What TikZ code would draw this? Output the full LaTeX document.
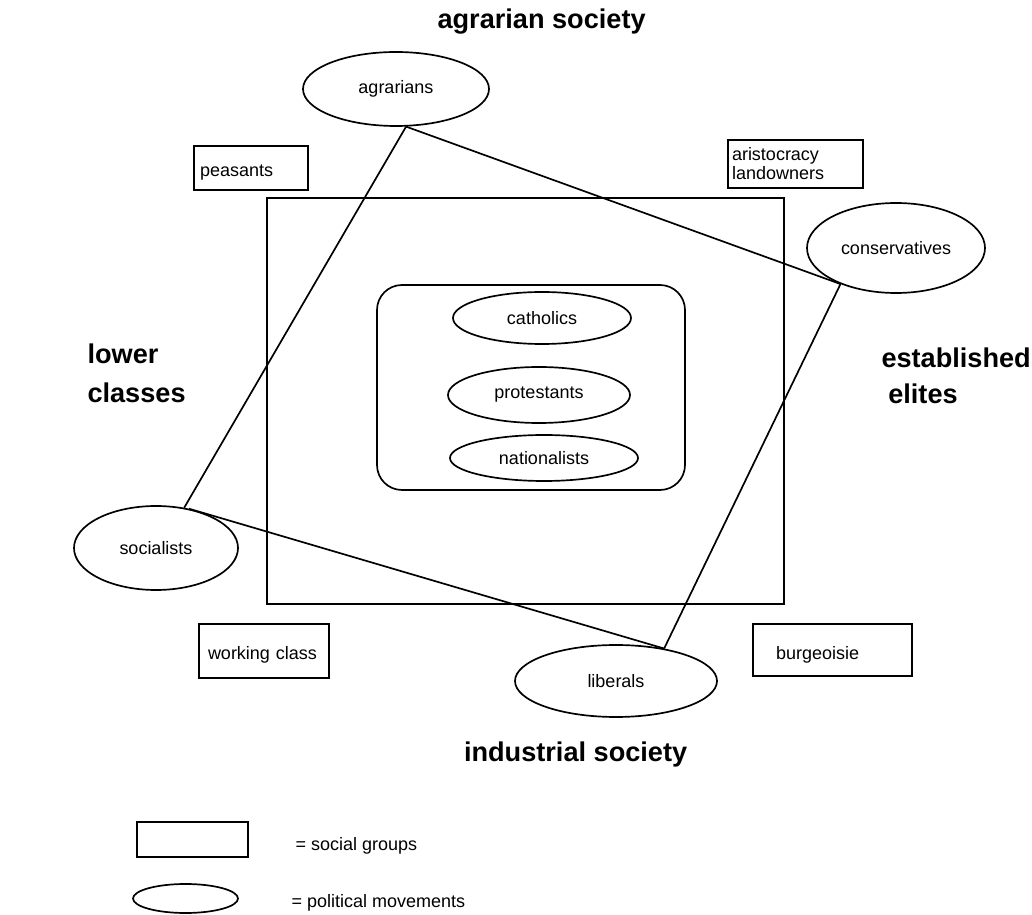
\documentclass[tikz,border=0pt]{standalone}
\usepackage{fontspec}
\setmainfont{Liberation Sans}
\usetikzlibrary{shapes.geometric}

\begin{document}
\begin{tikzpicture}[line width=1.2pt, font=\fontsize{12.8}{13.5}\selectfont]
\tikzset{%
	movement/.style = {draw, ellipse, inner sep=0pt},
	group/.style = {draw, rectangle, align=left, inner ysep=0pt},
	oneline/.style = {text height=.45cm, text depth=0pt},
	title/.style = {font=\fontsize{19.3}{26}\selectfont\bfseries, align=left},
	con/.style = {-, line width=1.2pt}
}
\useasboundingbox (0,0) rectangle (25.8,-22.875);

% Headings

\draw node at (13.54,-0.55) [title] (agrsoc) {agrarian society};
\draw node at (14.39,-18.85) [title] (indsoc) {industrial society};
\draw node at (2.05,-9.33) [title, anchor=west] (lower) {lower\\[2pt] classes};
\draw node at (21.9,-9.4) [title, anchor=west] (elites) {established\\ \hspace*{.25em}elites};

% Frames

\draw (6.675,-4.95) rectangle (19.6,-15.1);
\draw [rounded corners = .625cm] (9.425,-7.125) rectangle (17.125,-12.25);

% Political movements

\draw node at (9.9,-2.225) [movement, minimum width=4.65cm, minimum height=1.85cm] (agr) {agrarians};
\draw node at (22.4,-6.2) [movement, minimum width=4.45cm, minimum height=2.25cm] (cons) {conservatives};
\draw node at (3.9,-13.7) [movement, minimum width=4.1cm, minimum height=2.1cm] (soc) {socialists};
\draw node at (15.4,-17.025) [movement, minimum width=5.05cm, minimum height=1.8cm] (lib) {liberals};
\draw node at (13.55,-7.95) [movement, minimum width=4.45cm, minimum height=1.3cm] (cath) {catholics};
\draw node at (13.475,-9.875) [movement, minimum width=4.55cm, minimum height=1.4cm] (prot) {protestants};
\draw node at (13.6,-11.45) [movement, minimum width=4.7cm, minimum height=1.15cm] (nat) {nationalists};

% Social groups

\draw node at (6.275,-4.2) [group, oneline, text width=2.55cm, inner xsep=.15cm, minimum height=1.1cm] (peas) {peasants};
\draw node at (19.8875,-4.1) [group, text width=3.175cm, inner xsep=.1cm, minimum height=1.2cm] (aris) {aristocracy\\landowners};
\draw node at (6.6,-16.275) [group, oneline, text width=2.8cm, inner xsep=.225cm, minimum height=1.35cm] (work) {working class};
\draw node at (20.8125,-16.25) [group, oneline, text width=2.825cm, inner xsep=.575cm, minimum height=1.3cm] (burg) {burgeoisie};

\draw[con] (agr.-75) -- (soc.55);
\draw[con] (agr.-75) -- (cons.213);
\draw[con] (cons.213) -- (lib.34);
\draw[con] (soc.50) -- (lib.34);

% Legend

\draw node at (4.8125,-20.9875) [draw, rectangle, minimum width=2.775cm, minimum height=.875cm] (keygroup) {};
\draw node at (4.6375,-22.4625) [movement, minimum width=2.625cm, minimum height=.725cm] (keymove) {};
\draw node at (7.25,-21.15) [anchor=west] (keygrouptxt) {= social groups};
\draw node at (7.15,-22.575) [anchor=west] (keymovetxt) {= political movements};

\end{tikzpicture}
\end{document}
